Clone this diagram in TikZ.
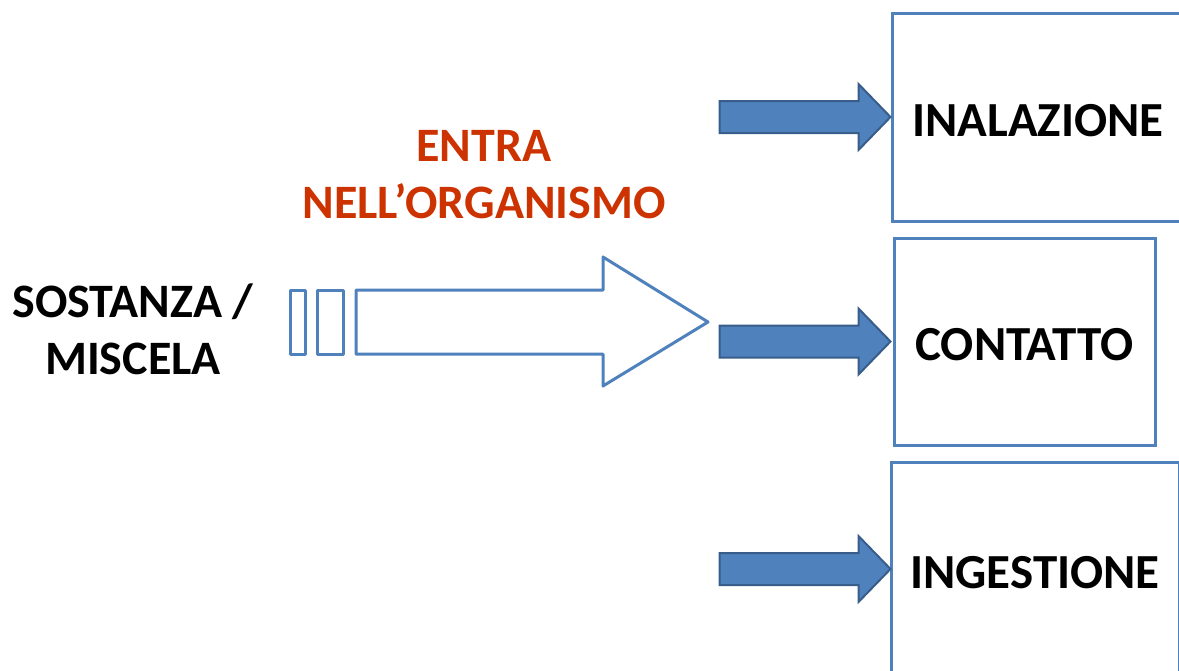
\documentclass[tikz,border=0pt]{standalone}
\usepackage{fontspec}
\setmainfont{Carlito}
\definecolor{boxblue}{RGB}{79,129,189}
\definecolor{edgeblue}{RGB}{56,93,138}
\definecolor{entrared}{RGB}{204,51,0}
\tikzset{
  box/.style={draw=boxblue, line width=3pt, fill=white, text height=38pt, text depth=0pt, font=\fontsize{49}{57}\selectfont\bfseries},
  fatarrow/.style={draw=edgeblue, line width=2pt, fill=boxblue, line join=miter},
  hollow/.style={draw=boxblue, line width=3pt, fill=white, line join=round},
  label/.style={font=\fontsize{48}{57}\selectfont\bfseries, align=center}
}
\begin{document}
\begin{tikzpicture}[x=1pt,y=-1pt]
\useasboundingbox (0,0) rectangle (1179,670);

\node[box, minimum width=292, minimum height=208] (inal) at (1038,117) {INALAZIONE};
\node[box, minimum width=261, minimum height=207] (cont) at (1024.5,341.5) {CONTATTO};
\node[box, minimum width=288, minimum height=214] (inge) at (1035,569) {INGESTIONE};

\node[label] (sost) at (133,329) {SOSTANZA /\\MISCELA};
\node[label, text=entrared] (entra) at (484,175) {ENTRA\\NELL’ORGANISMO};

% big arrow
\draw[hollow] (290,290) rectangle (305,354);
\draw[hollow] (317,290) rectangle (343,354);
\draw[hollow] (356,290) -- (603,290) -- (603,257) -- (708,322) -- (603,386) -- (603,354) -- (356,354) -- cycle;

% arrows into the boxes
\draw[fatarrow, shift={(inal.west)}] (-171,-16) -- (-32,-16) -- (-32,-33) -- (0,0) -- (-32,33) -- (-32,16) -- (-171,16) -- cycle;
\draw[fatarrow, shift={(cont.west)}] (-173,-16) -- (-34,-16) -- (-34,-33) -- (-2,0) -- (-34,33) -- (-34,16) -- (-173,16) -- cycle;
\draw[fatarrow, shift={(inge.west)}] (-170,-16) -- (-31,-16) -- (-31,-33) -- (1,0) -- (-31,33) -- (-31,16) -- (-170,16) -- cycle;
\end{tikzpicture}
\end{document}
